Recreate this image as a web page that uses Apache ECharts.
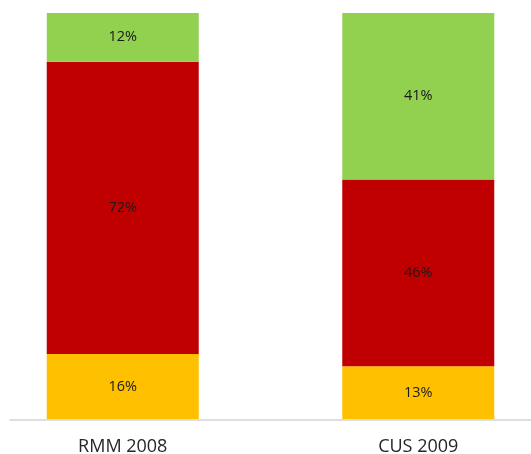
<!DOCTYPE html>
<html>
<head>
<meta charset="utf-8">
<script src="https://cdn.jsdelivr.net/npm/echarts@6/dist/echarts.min.js"></script>
<style>
  html, body { margin: 0; padding: 0; background: #ffffff; overflow: hidden; }
  #wrap { position: relative; width: 531px; height: 454px; overflow: hidden; }
  /* the plot area runs past the picture on both sides */
  #chart { position: absolute; left: -25px; top: 0; width: 591px; height: 454px; }
</style>
</head>
<body>
<div id="wrap"><div id="chart"></div></div>
<script>
// categories and shares (percent)
const categories = ["RMM 2008", "CUS 2009"];
const lowShare = [16, 13];   // yellow, bottom
const midShare = [72, 46];   // red, middle
const highShare = [12, 41];  // green, top

const chart = echarts.init(document.getElementById("chart"));

const labelStyle = {
  show: true,
  position: "inside",
  formatter: "{c}%",
  color: "#1a1a1a",
  fontFamily: "Open Sans",
  fontSize: 14.5
};

function stackSeries(name, data, color) {
  return {
    name: name,
    type: "bar",
    stack: "total",
    data: data,
    barWidth: 152,
    xAxisIndex: 0,
    yAxisIndex: 0,
    itemStyle: { color: color },
    label: labelStyle,
    emphasis: { disabled: true }
  };
}

chart.setOption({
  animation: false,
  backgroundColor: "#ffffff",
  grid: [
    // plot area for the bars
    { left: 0, right: 0, top: 13, bottom: 35, outerBoundsMode: "none" },
    // only used to draw the baseline
    { left: 35, right: 25, top: 13, bottom: 34, outerBoundsMode: "none" }
  ],
  xAxis: [
    {
      type: "category",
      gridIndex: 0,
      data: categories,
      axisLine: { show: false },
      axisTick: { show: false },
      axisLabel: {
        margin: 19,
        color: "#262626",
        fontFamily: "Open Sans",
        fontSize: 18
      }
    },
    {
      type: "value",
      gridIndex: 1,
      min: 0,
      max: 1,
      axisLine: { show: true, lineStyle: { color: "#d4d4d4", width: 1.5 } },
      axisTick: { show: false },
      axisLabel: { show: false },
      splitLine: { show: false }
    }
  ],
  yAxis: [
    {
      type: "value",
      gridIndex: 0,
      min: 0,
      max: 100,
      show: false
    },
    {
      type: "value",
      gridIndex: 1,
      show: false
    }
  ],
  series: [
    stackSeries("low", lowShare, "#FFC000"),
    stackSeries("mid", midShare, "#C00000"),
    stackSeries("high", highShare, "#92D050")
  ]
});
</script>
</body>
</html>
